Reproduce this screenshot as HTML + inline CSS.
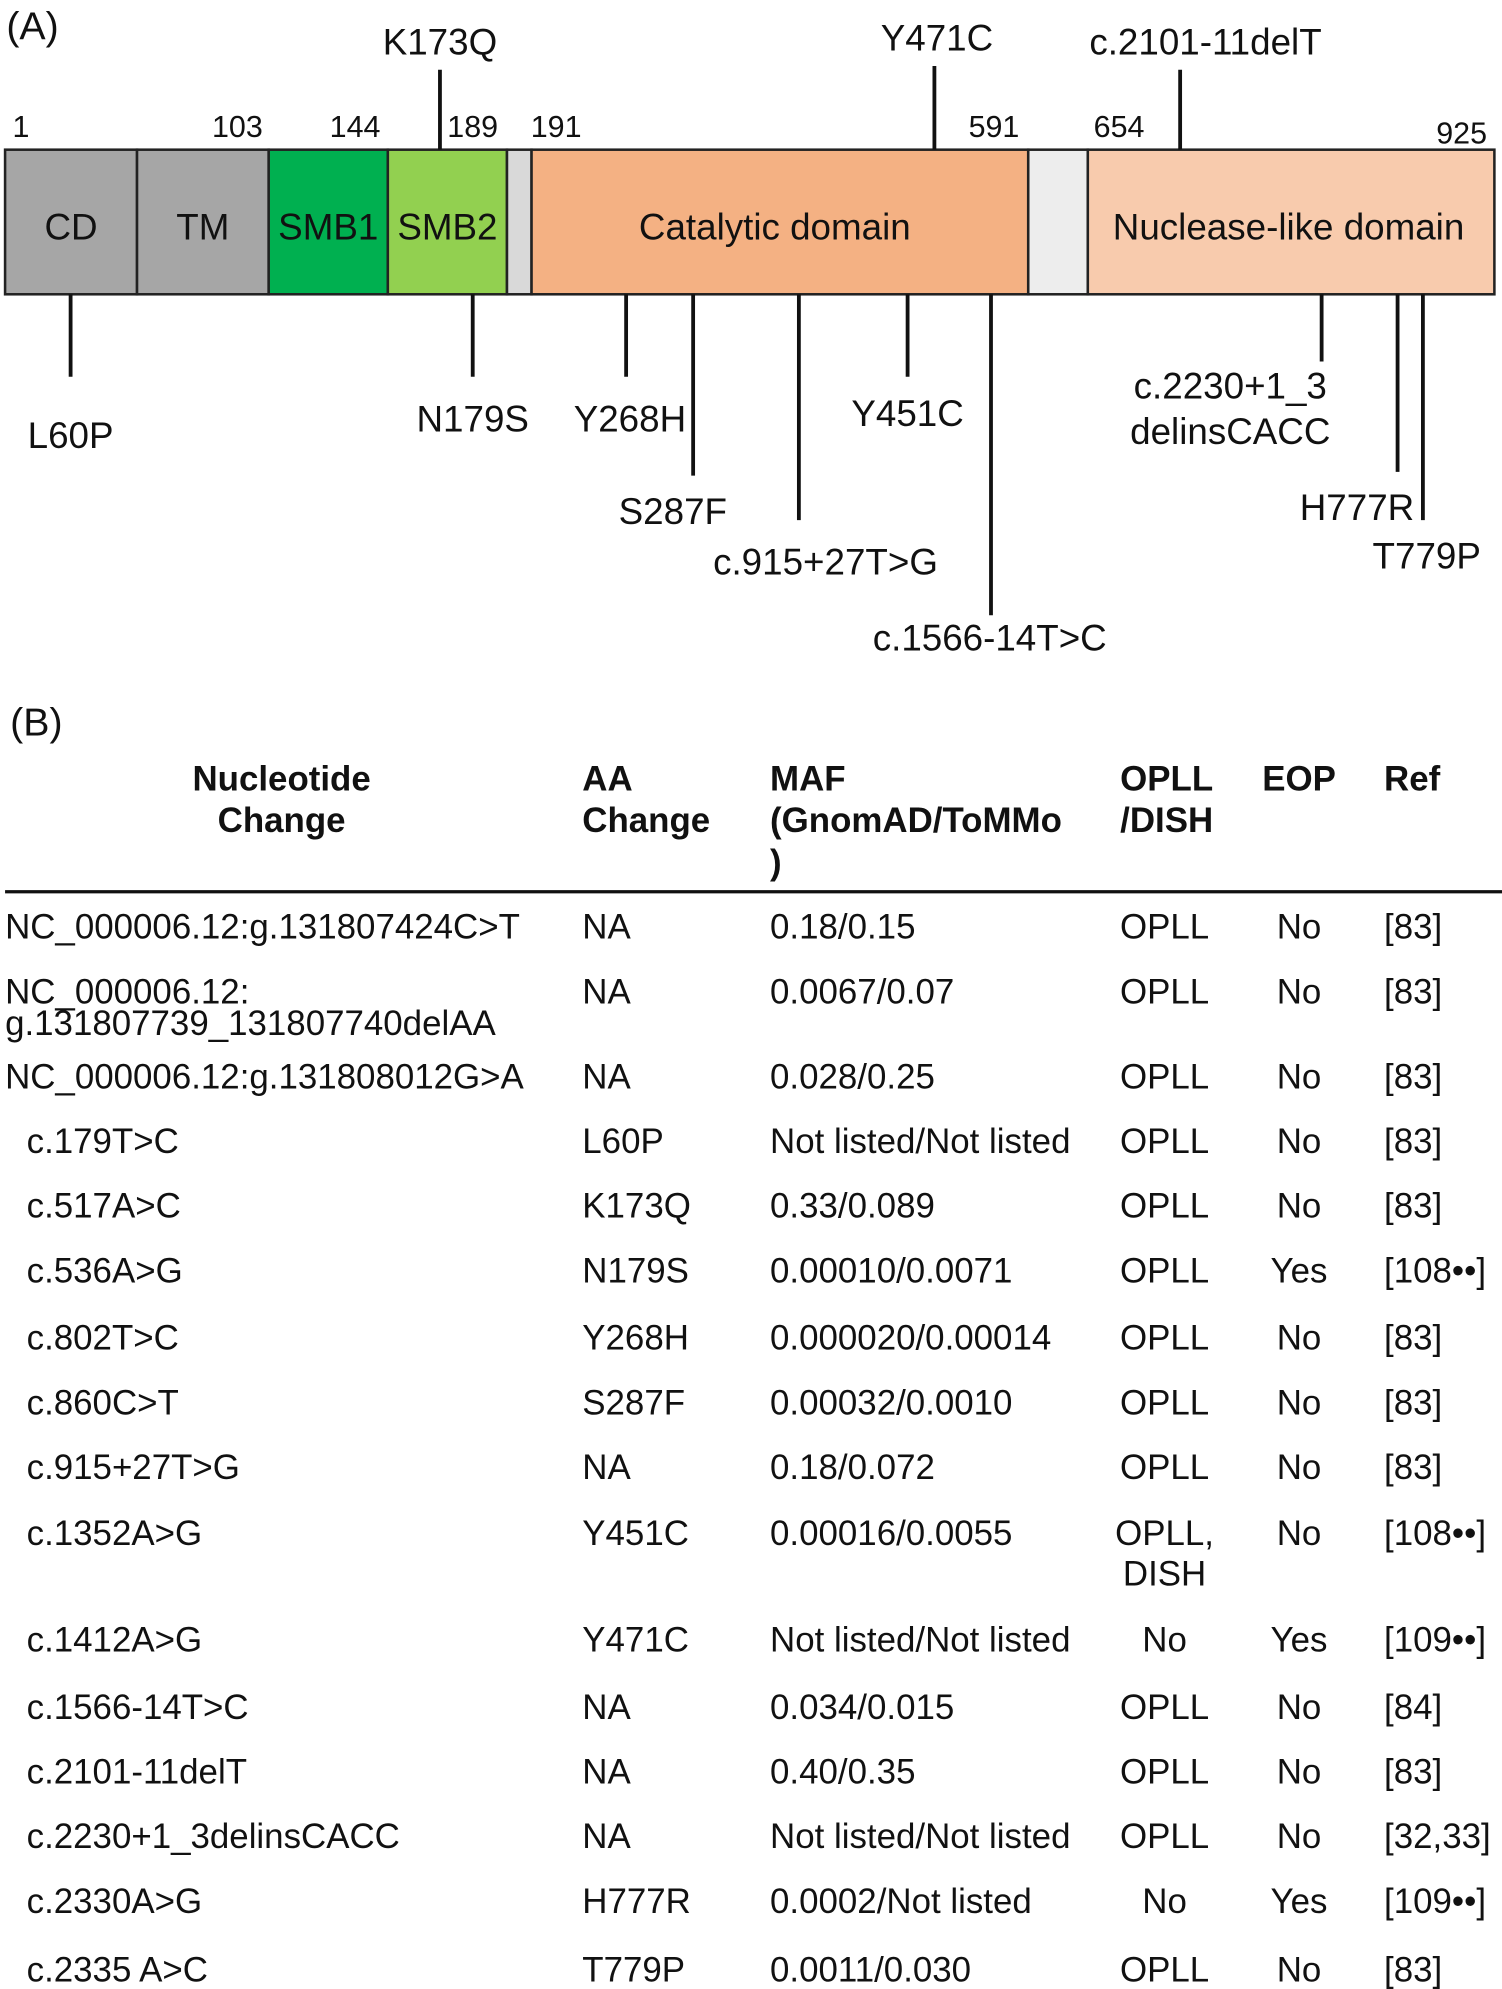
<!DOCTYPE html>
<html><head><meta charset="utf-8"><style>
html,body{margin:0;padding:0;background:#fff}
svg{display:block}
text{font-family:"Liberation Sans",Arial,sans-serif;fill:#111}
</style></head><body>
<svg id="fig" width="1502" height="1989" viewBox="0 0 1184 1568" preserveAspectRatio="none" xmlns="http://www.w3.org/2000/svg">
<text x="5" y="31" font-size="31">(A)</text>
<g id="domains"></g>
<g id="ticks"></g>
<g id="muts"></g>
<text x="8" y="580" font-size="31">(B)</text>
<g id="table"></g>
</svg>
<script>
// diagram units 0..1000 along the protein bar
const domainNames=["CD","TM","SMB1","SMB2","","Catalytic domain","","Nuclease-like domain"];
const domainStart=[0,88.6,177,257,337,353.5,687,727];
const domainEnd=[88.6,177,257,337,353.5,687,727,1000];
const domainColors=["#a6a6a6","#a6a6a6","#00b050","#92d050","#d9d9d9","#f4b183","#ededed","#f8cbad"];
const tickLabels=["1","103","144","189","191","591","654","925"];
const tickPos=[5,156,235,314,370,664,748,978];
const mutNames=["K173Q","Y471C","c.2101-11delT","L60P","N179S","Y268H","S287F","c.915+27T>G","Y451C","c.1566-14T>C","c.2230+1_3|delinsCACC","H777R","T779P"];
const mutPos=[292,624,789,44,314,417,462,533,606,662,884,935,952];
const mutSide=["up","up","up","down","down","down","down","down","down","down","down","down","down"];
const mutLen=[63,66,63,65,65,65,143,178,65,253,53,140,178];
const mutLabelDx=[0,2,20,0,0,3,-16,21,0,-1,-72,-32,3];

const NS="http://www.w3.org/2000/svg";
const X0=4,X1=1178,TOP=118,BOT=232;
function sx(u){return X0+u*(X1-X0)/1000;}
function mk(tag,attrs,parent){const e=document.createElementNS(NS,tag);for(const k in attrs)e.setAttribute(k,attrs[k]);parent.appendChild(e);return e;}

const gd=document.getElementById("domains");
domainStart.forEach((s,i)=>{
  const r=mk("rect",{x:sx(s),y:TOP,width:sx(domainEnd[i])-sx(s),height:BOT-TOP,fill:domainColors[i],stroke:"#222","stroke-width":2},gd);
  
  
  if(domainNames[i]){
    const t=mk("text",{x:(sx(s)+sx(domainEnd[i]))/2-(i==5?4:i==7?2:0),y:189,"font-size":29,"text-anchor":"middle"},gd);
    t.textContent=domainNames[i];
    
    
  }
});
const gt=document.getElementById("ticks");
tickLabels.forEach((l,i)=>{
  const t=mk("text",{x:sx(tickPos[i]),y:i==7?113:108,"font-size":24,"text-anchor":i==0?"start":"middle"},gt);
  t.textContent=l;
  
  
});
const gm=document.getElementById("muts");
mutNames.forEach((n,i)=>{
  const x=sx(mutPos[i]);const up=mutSide[i]=="up";
  const y1=up?TOP:BOT,y2=up?TOP-mutLen[i]:BOT+mutLen[i];
  const ln=mk("line",{x1:x,x2:x,y1:y1,y2:y2,stroke:"#111","stroke-width":3},gm);
  
  
  const parts=n.split("|");
  parts.forEach((p,j)=>{
    let ly=up?y2-12:y2+ (n=="L60P"?56:n=="c.2230+1_3|delinsCACC"?29:n=="Y451C"?39:(n=="N179S"||n=="Y268H")?43:27)+j*36;
    if(n=="H777R")ly=y2+38;
    if(n=="T779P")ly=y2+38;
    if(n=="S287F")ly=y2+38;
    if(n=="c.915+27T>G")ly=y2+43;
    if(n=="c.1566-14T>C")ly=y2+28;
    const t=mk("text",{x:x+mutLabelDx[i],y:ly,"font-size":29,"text-anchor":"middle"},gm);
    t.textContent=p;
    
    
  });
});

// table
const headers=[["Nucleotide","Change"],["AA","Change"],["MAF","(GnomAD/ToMMo",")"],["OPLL","/DISH"],["EOP"],["Ref"]];
const headX=[222,459,607,883,995,1091];
const headAnchor=["middle","start","start","start","start","start"];
const nucl=["NC_000006.12:g.131807424C>T","NC_000006.12:|g.131807739_131807740delAA","NC_000006.12:g.131808012G>A","c.179T>C","c.517A>C","c.536A>G","c.802T>C","c.860C>T","c.915+27T>G","c.1352A>G","c.1412A>G","c.1566-14T>C","c.2101-11delT","c.2230+1_3delinsCACC","c.2330A>G","c.2335 A>C"];
const aa=["NA","NA","NA","L60P","K173Q","N179S","Y268H","S287F","NA","Y451C","Y471C","NA","NA","NA","H777R","T779P"];
const maf=["0.18/0.15","0.0067/0.07","0.028/0.25","Not listed/Not listed","0.33/0.089","0.00010/0.0071","0.000020/0.00014","0.00032/0.0010","0.18/0.072","0.00016/0.0055","Not listed/Not listed","0.034/0.015","0.40/0.35","Not listed/Not listed","0.0002/Not listed","0.0011/0.030"];
const opll=["OPLL","OPLL","OPLL","OPLL","OPLL","OPLL","OPLL","OPLL","OPLL","OPLL,|DISH","No","OPLL","OPLL","OPLL","No","OPLL"];
const eop=["No","No","No","No","No","Yes","No","No","No","No","Yes","No","No","No","Yes","No"];
const refs=["[83]","[83]","[83]","[83]","[83]","[108••]","[83]","[83]","[83]","[108••]","[109••]","[84]","[83]","[32,33]","[109••]","[83]"];
const rowY=[730,781,848,899,950,1001,1054,1105,1156,1208,1292,1345,1396,1447,1498,1552];

const tb=document.getElementById("table");
headers.forEach((h,i)=>{
  h.forEach((line,j)=>{
    const t=mk("text",{x:headX[i],y:623+j*33,"font-size":27.5,"font-weight":"bold","text-anchor":headAnchor[i]},tb);
    t.textContent=line;
    
    
  });
});
const rule=mk("line",{x1:4,x2:1184,y1:703,y2:703,stroke:"#111","stroke-width":2.5},tb);


function cell(txt,x,y,anchor,name){
  txt.split("|").forEach((p,j)=>{
    const t=mk("text",{x:x,y:y+10+j*(name=="opll-cell"?32:25),"font-size":27.5,"text-anchor":anchor},tb);
    t.textContent=p;
    
    
  });
}
rowY.forEach((y,i)=>{
  const indent=nucl[i].startsWith("c.")?21:4;
  cell(nucl[i],indent,y,"start","nucleotide-cell");
  cell(aa[i],459,y,"start","aa-cell");
  cell(maf[i],607,y,"start","maf-cell");
  cell(opll[i],918,y,"middle","opll-cell");
  cell(eop[i],1024,y,"middle","eop-cell");
  cell(refs[i],1091,y,"start","ref-cell");
});
</script>
</body></html>
